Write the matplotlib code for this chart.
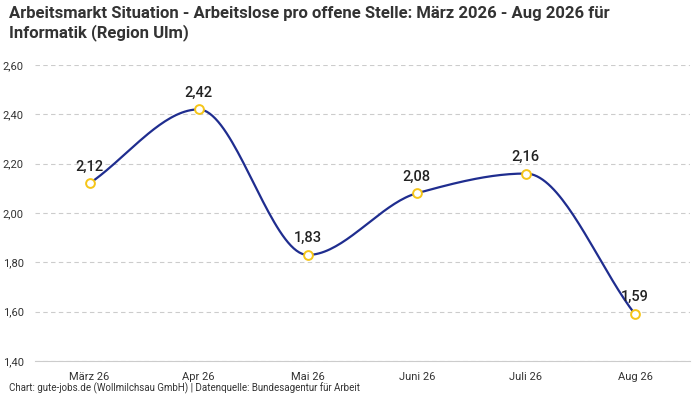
import numpy as np
import matplotlib
matplotlib.use("Agg")
import matplotlib.pyplot as plt

plt.rcParams['font.family'] = ['Roboto', 'DejaVu Sans']

months = ["März 26", "Apr 26", "Mai 26", "Juni 26", "Juli 26", "Aug 26"]
values = [2.12, 2.42, 1.83, 2.08, 2.16, 1.59]
yticks = [1.40, 1.60, 1.80, 2.00, 2.20, 2.40, 2.60]

def monotone(x, y, n=40):
    x = np.asarray(x, float); y = np.asarray(y, float)
    h = np.diff(x); d = np.diff(y) / h
    m = np.zeros_like(y)
    m[0], m[-1] = d[0], d[-1]
    for i in range(1, len(y) - 1):
        if d[i-1] * d[i] <= 0:
            m[i] = 0
        else:
            m[i] = 2 / (1/d[i-1] + 1/d[i])
    xs, ys = [], []
    for i in range(len(h)):
        t = np.linspace(0, 1, n)
        h00 = 2*t**3 - 3*t**2 + 1; h10 = t**3 - 2*t**2 + t
        h01 = -2*t**3 + 3*t**2; h11 = t**3 - t**2
        xs.append(x[i] + t*h[i])
        ys.append(h00*y[i] + h10*h[i]*m[i] + h01*y[i+1] + h11*h[i]*m[i+1])
    return np.concatenate(xs), np.concatenate(ys)

fig = plt.figure(figsize=(7, 4), dpi=100)
ax = fig.add_axes([0.05, 0.0975, 0.935, 0.74])
x = np.arange(len(values))
cx, cy = monotone(x, values)
ax.plot(cx, cy, color='#1f2d8f', lw=1.6, zorder=2)
ax.scatter(x, values, s=40, facecolor='white', edgecolor='#f5c518', lw=1.4, zorder=3)
for xi, v in zip(x, values):
    ax.annotate(f"{v:.2f}".replace('.', ','), (xi, v), xytext=(0, 7), textcoords='offset points',
                ha='center', va='bottom', fontsize=10.5, fontweight='medium', color='#222')
ax.set_xlim(-0.5, len(values) - 0.5)
ax.set_ylim(1.40, 2.60)
ax.set_yticks(yticks)
ax.set_yticklabels([f"{t:.2f}".replace('.', ',') for t in yticks], fontsize=8, color='#333')
ax.set_xticks(x)
ax.set_xticklabels(months, fontsize=8, color='#333')
ax.grid(axis='y', color='#cccccc', ls=(0, (4, 3)), lw=0.8)
for s in ['top', 'right', 'left']:
    ax.spines[s].set_visible(False)
ax.spines['bottom'].set_color('#cccccc')
ax.tick_params(axis='both', length=0, pad=8)
fig.text(0.013, 0.985, "Arbeitsmarkt Situation - Arbeitslose pro offene Stelle: März 2026 - Aug 2026 für\nInformatik (Region Ulm)",
         fontsize=12, fontweight='bold', color='#333', va='top', ha='left', linespacing=1.2)
fig.text(0.013, 0.015, "Chart: gute-jobs.de (Wollmilchsau GmbH) | Datenquelle: Bundesagentur für Arbeit",
         fontsize=7, color='#333', ha='left', va='bottom')
fig.savefig("out.png", dpi=100)
